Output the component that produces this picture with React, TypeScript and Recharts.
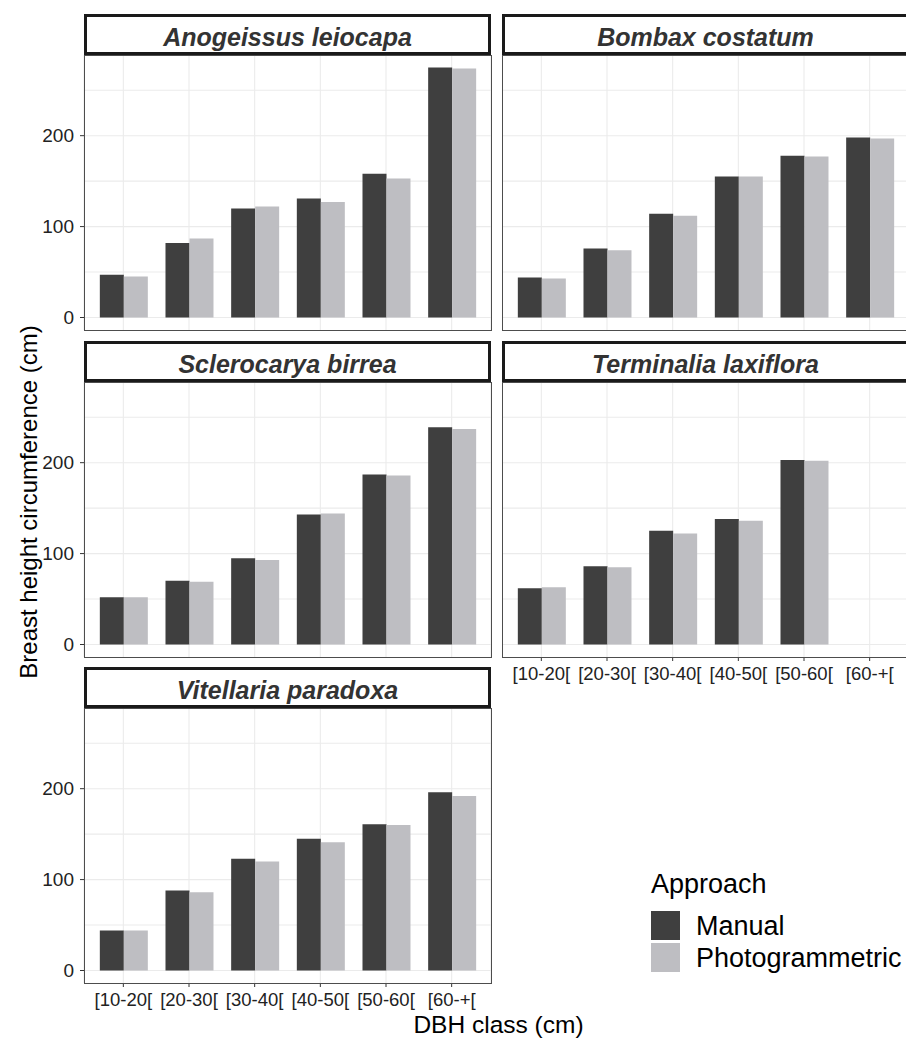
import React from 'react';
import { BarChart, Bar, XAxis, YAxis, CartesianGrid } from 'recharts';

// ---------- data ----------
const categories = ['[10-20[', '[20-30[', '[30-40[', '[40-50[', '[50-60[', '[60-+['];
const species = [
  'Anogeissus leiocapa',
  'Bombax costatum',
  'Sclerocarya birrea',
  'Terminalia laxiflora',
  'Vitellaria paradoxa',
];
const anogeissusManual = [47, 82, 120, 131, 158, 275];
const anogeissusPhoto = [45, 87, 122, 127, 153, 274];
const bombaxManual = [44, 76, 114, 155, 178, 198];
const bombaxPhoto = [43, 74, 112, 155, 177, 197];
const sclerocaryaManual = [52, 70, 95, 143, 187, 239];
const sclerocaryaPhoto = [52, 69, 93, 144, 186, 237];
const terminaliaManual = [62, 86, 125, 138, 203, null];
const terminaliaPhoto = [63, 85, 122, 136, 202, null];
const vitellariaManual = [44, 88, 123, 145, 161, 196];
const vitellariaPhoto = [44, 86, 120, 141, 160, 192];

const manualValues = [anogeissusManual, bombaxManual, sclerocaryaManual, terminaliaManual, vitellariaManual];
const photoValues = [anogeissusPhoto, bombaxPhoto, sclerocaryaPhoto, terminaliaPhoto, vitellariaPhoto];

const seriesNames = ['Manual', 'Photogrammetric'];
const seriesKeys = ['manual', 'photo'];
const seriesColors = ['#3f3f3f', '#bebec2'];

const yTicks = [0, 100, 200];
const yGridValues = [0, 50, 100, 150, 200, 250];
const yDomain = [-13.75, 288.75];

const xTitle = 'DBH class (cm)';
const yTitle = 'Breast height circumference (cm)';
const legendTitle = 'Approach';

// ---------- layout ----------
const FONT = '"Liberation Sans", Arial, Helvetica, sans-serif';
const PANEL_LEFT = 84;
const PANEL_TOP = 55;
const PANEL_W = 407;
const PANEL_H = 275;
const COL_PITCH = 418;
const ROW_PITCH = 326.5;
const STRIP_H = 41;

function Panel({ idx }: { idx: number }) {
  const col = idx % 2;
  const row = Math.floor(idx / 2);
  const px = PANEL_LEFT + col * COL_PITCH;
  const py = PANEL_TOP + Math.round(row * ROW_PITCH);
  const showY = col === 0;
  const showX = idx >= species.length - 2;
  const yW = showY ? 50 : 0;
  const xH = showX ? 40 : 0;
  const data = categories.map((c, k) => ({
    cls: c,
    manual: manualValues[idx][k],
    photo: photoValues[idx][k],
  }));
  return (
    <>
      <div style={{ position: 'absolute', left: px - yW, top: py }}>
        <BarChart
          width={PANEL_W + yW}
          height={PANEL_H + xH}
          data={data}
          margin={{ top: 0, right: 0, bottom: 0, left: 0 }}
          barCategoryGap="14.2%"
          barGap={0}
        >
          <CartesianGrid stroke="#ebebeb" strokeWidth={1.1} horizontalValues={yGridValues} />
          <XAxis
            dataKey="cls"
            type="category"
            hide={!showX}
            height={xH}
            interval={0}
            padding={{ left: 6.5, right: 6.5 }}
            axisLine={false}
            tickLine={{ stroke: '#333333' }}
            tickSize={4}
            tickMargin={6}
            tick={{ fill: '#222222', fontSize: 18.5, fontFamily: FONT }}
          />
          <YAxis
            type="number"
            hide={!showY}
            width={yW}
            domain={yDomain}
            ticks={yTicks}
            allowDataOverflow
            axisLine={false}
            tickLine={{ stroke: '#333333' }}
            tickSize={4}
            tickMargin={6}
            tick={{ fill: '#222222', fontSize: 19, fontFamily: FONT }}
          />
          {seriesKeys.map((k, s) => (
            <Bar key={k} dataKey={k} name={seriesNames[s]} fill={seriesColors[s]} isAnimationActive={false} />
          ))}
        </BarChart>
      </div>
      <div
        style={{
          position: 'absolute',
          left: px - 0.5,
          top: py - 0.5,
          width: PANEL_W + 1,
          height: PANEL_H + 1,
          border: '1px solid #4d4d4d',
          boxSizing: 'border-box',
          pointerEvents: 'none',
        }}
      />
      <svg
        width={PANEL_W}
        height={STRIP_H}
        style={{ position: 'absolute', left: px, top: py - STRIP_H }}
      >
        <rect x={1.5} y={1.5} width={PANEL_W - 3} height={STRIP_H - 3} fill="#ffffff" stroke="#1a1a1a" strokeWidth={3} />
        <text
          x={PANEL_W / 2}
          y={31.7}
          textAnchor="middle"
          fontFamily={FONT}
          fontSize={25}
          fontWeight="bold"
          fontStyle="italic"
          fill="#333333"
        >
          {species[idx]}
        </text>
      </svg>
    </>
  );
}

export default function App() {
  return (
    <div
      style={{
        position: 'absolute',
        left: 0,
        top: 0,
        width: 906,
        height: 1039,
        overflow: 'hidden',
        background: '#ffffff',
        fontFamily: FONT,
      }}
    >
      <svg width={906} height={1039} style={{ position: 'absolute', left: 0, top: 0 }}>
        <text
          transform="translate(36.5, 502) rotate(-90)"
          textAnchor="middle"
          fontFamily={FONT}
          fontSize={24}
          fill="#000000"
        >
          {yTitle}
        </text>
        <text x={498.5} y={1033} textAnchor="middle" fontFamily={FONT} fontSize={24.5} fill="#000000">
          {xTitle}
        </text>
        <text x={651} y={893} fontFamily={FONT} fontSize={27} fill="#000000">
          {legendTitle}
        </text>
        {seriesNames.map((n, s) => (
          <g key={n}>
            <rect x={651} y={911 + s * 32} width={29} height={29} fill={seriesColors[s]} />
            <text x={696} y={935 + s * 32} fontFamily={FONT} fontSize={27} fill="#000000">
              {n}
            </text>
          </g>
        ))}
      </svg>
      {species.map((_, i) => (
        <Panel key={i} idx={i} />
      ))}
    </div>
  );
}
